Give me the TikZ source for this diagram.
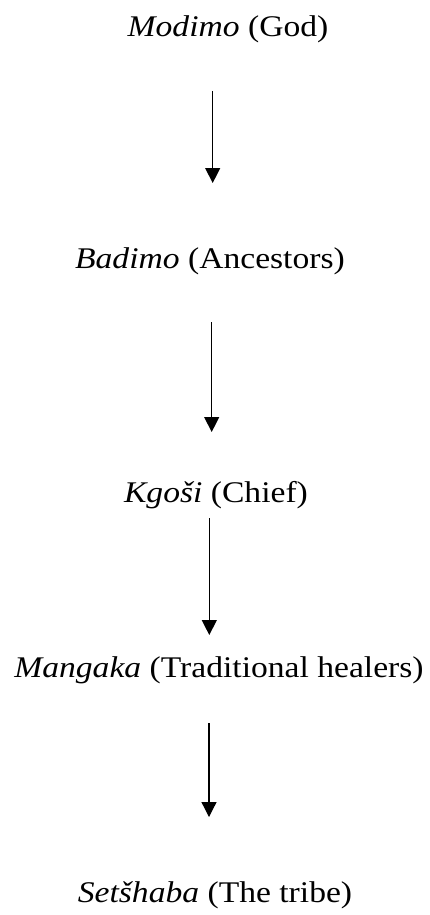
\documentclass[tikz,border=0pt]{standalone}
\usepackage{fontspec}
\usepackage{graphicx}
\setmainfont{Liberation Serif}
\usetikzlibrary{arrows.meta,calc}
\tikzset{
  lbl/.style={anchor=base, inner sep=0pt, font=\fontsize{30}{36}\selectfont},
  arr/.style={line width=1.3pt, -{Triangle[width=15pt,length=15pt]}}
}
\newcommand{\wide}[1]{\scalebox{1.12}[1]{#1}}
\begin{document}
\begin{tikzpicture}[x=1pt,y=-1pt]
\useasboundingbox (0,0) rectangle (430,915);
\fill[white] (0,0) rectangle (430,915);
\node[lbl] (m) at (228,37) {\wide{\textit{Modimo} (God)}};
\node[lbl] (b) at (210,268) {\wide{\textit{Badimo} (Ancestors)}};
\node[lbl] (k) at (216,502) {\wide{\textit{Kgoši} (Chief)}};
\node[lbl] (g) at (219,677) {\wide{\textit{Mangaka} (Traditional healers)}};
\node[lbl] (s) at (215,902) {\wide{\textit{Setšhaba} (The tribe)}};
\draw[arr] ($(m.base)+(-15.3,54)$) -- ($(b.base)+(2.7,-85)$);
\draw[arr] ($(b.base)+(1.7,54)$) -- ($(k.base)+(-4.3,-70)$);
\draw[arr] ($(k.base)+(-6.7,16)$) -- ($(g.base)+(-9.7,-42)$);
\draw[arr] ($(g.base)+(-10,46)$) -- ($(s.base)+(-6,-85)$);
\end{tikzpicture}
\end{document}
